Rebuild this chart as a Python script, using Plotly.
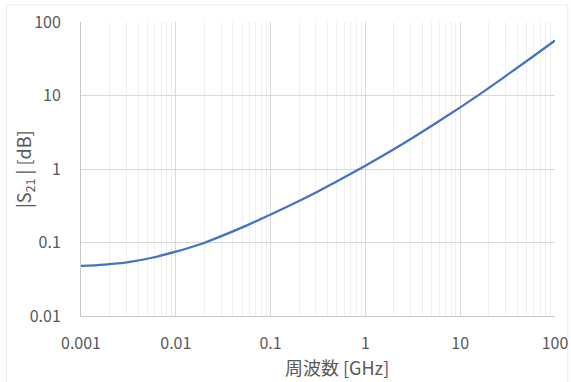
import plotly.graph_objects as go

# Frequency [GHz] and |S21| [dB] (quarter decades)
freq_ghz = [0.001, 0.00178, 0.00316, 0.00562, 0.01, 0.0178, 0.0316, 0.0562, 0.1,
            0.178, 0.316, 0.562, 1, 1.78, 3.16, 5.62, 10, 17.8, 31.6, 56.2, 100]
s21_db = [0.048, 0.050, 0.054, 0.062, 0.075, 0.094, 0.125, 0.171, 0.240,
          0.342, 0.495, 0.735, 1.11, 1.70, 2.66, 4.25, 6.9, 11.4, 19.2, 32.6, 56]

x_tickvals = [0.001, 0.01, 0.1, 1, 10, 100]
x_ticktext = ["0.001", "0.01", "0.1", "1", "10", "100"]
y_tickvals = [0.01, 0.1, 1, 10, 100]
y_ticktext = ["0.01", "0.1", "1", "10", "100"]
x_minor_vals = [m * d for d in [0.001, 0.01, 0.1, 1, 10] for m in range(2, 10)]

x_title = "周波数 [GHz]"
y_title = "|S<sub>21</sub> | [dB]"

font_family = "Noto Sans CJK JP, Noto Sans, sans-serif"
tick_color = "#595959"
major_grid = "#d9d9d9"
minor_grid = "#efefef"

fig = go.Figure()
fig.add_trace(go.Scatter(
    x=freq_ghz, y=s21_db, mode="lines",
    line=dict(color="#4472C4", width=2.25, shape="spline", smoothing=1.0),
    showlegend=False, hoverinfo="skip",
))

axis_common = dict(
    type="log", showgrid=True, gridcolor=major_grid, gridwidth=1,
    showline=True, linecolor="#c8c8c8", linewidth=1, mirror=False,
    ticks="", zeroline=False, automargin=False,
    tickfont=dict(family=font_family, size=16, color=tick_color),
)

fig.update_xaxes(
    **axis_common,
    range=[-3, 2],
    tickvals=x_tickvals, ticktext=x_ticktext,
    ticklabelstandoff=13,
    minor=dict(showgrid=True, gridcolor=minor_grid, gridwidth=1, ticks="",
               tickvals=x_minor_vals),
)
fig.update_yaxes(
    **axis_common,
    range=[-2, 2],
    tickvals=y_tickvals, ticktext=y_ticktext,
    ticklabelstandoff=16,
)

fig.add_annotation(
    text=x_title, xref="paper", yref="paper", x=0.54, y=-0.174,
    xanchor="center", yanchor="middle", showarrow=False,
    font=dict(family=font_family, size=18, color=tick_color),
)
fig.add_annotation(
    text=y_title, xref="paper", yref="paper", x=-0.120, y=0.5,
    xanchor="center", yanchor="middle", showarrow=False, textangle=-90,
    font=dict(family=font_family, size=18, color=tick_color),
)

fig.add_shape(type="rect", xref="paper", yref="paper",
              x0=-0.157, x1=1.027, y0=-0.235, y1=1.058,
              line=dict(color="#ececec", width=1), layer="below")

fig.update_layout(
    width=571, height=382,
    margin=dict(l=81, r=16, t=22, b=66),
    paper_bgcolor="white", plot_bgcolor="white",
    font=dict(family=font_family, color=tick_color),
)

fig.write_html(
    "out.html",
    config={"displayModeBar": False},
    post_script="document.body.style.margin='0';document.body.style.overflow='hidden';",
)
